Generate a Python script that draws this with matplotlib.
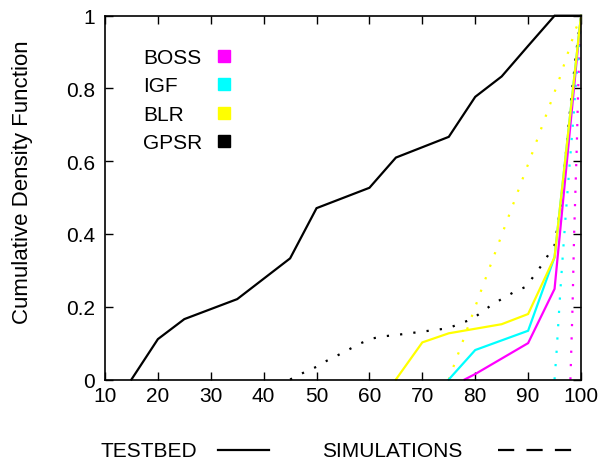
import matplotlib
matplotlib.use('Agg')
import matplotlib.pyplot as plt
from matplotlib.lines import Line2D

plt.rcParams['font.family'] = ['Liberation Sans', 'DejaVu Sans']

# testbed curves (solid)
gpsr_x = [15, 20, 25, 35, 45, 50, 60, 65, 75, 80, 85, 90, 95, 100]
gpsr_y = [0, 0.111, 0.166, 0.221, 0.333, 0.471, 0.527, 0.61, 0.667, 0.777, 0.833, 0.917, 1.0, 1.0]
blr_x = [65, 70, 75, 85, 90, 95, 100]
blr_y = [0, 0.102, 0.127, 0.152, 0.18, 0.336, 1.0]
igf_x = [75, 80, 90, 95, 100]
igf_y = [0, 0.081, 0.134, 0.336, 1.0]
boss_x = [78, 80, 90, 95, 100]
boss_y = [0, 0.015, 0.1, 0.249, 1.0]

# simulation curves (dotted)
gpsr_sim_x = [45, 47.7, 50, 52, 54.2, 56.3, 58.4, 60.6, 62.9, 65.4, 70.2, 74.9, 77.2, 79.4,
              83.3, 87.4, 89.6, 92.4, 95, 96.2, 97.2, 98.2, 99.1, 100]
gpsr_sim_y = [0, 0.02, 0.035, 0.052, 0.068, 0.084, 0.1, 0.113, 0.119, 0.123, 0.132, 0.141, 0.154, 0.166,
              0.207, 0.241, 0.255, 0.311, 0.369, 0.48, 0.63, 0.78, 0.9, 1.0]
blr_sim_x = [75, 77.7, 81, 86, 91, 96, 99, 100]
blr_sim_y = [0, 0.107, 0.24, 0.436, 0.631, 0.83, 0.963, 1.0]
igf_sim_x = [95, 95.4, 95.8, 96.2, 96.6, 97.1, 97.9, 98.5, 99, 99.6, 100]
igf_sim_y = [0, 0.08, 0.175, 0.267, 0.35, 0.45, 0.6, 0.707, 0.807, 0.9, 1.0]
boss_sim_x = [98, 98.4, 98.7, 99.2, 99.5, 99.8, 100]
boss_sim_y = [0, 0.2, 0.4, 0.64, 0.82, 0.95, 1.0]

names = ['BOSS', 'IGF', 'BLR', 'GPSR']
colors = ['#ff00ff', '#00ffff', '#ffff00', '#000000']
fs = 15

fig = plt.figure(figsize=(6.16, 4.64), dpi=100)
ax = fig.add_axes([105/616, 1-380.5/464, 476/616, 363.8/464])

dot = (0, (1, 5))
sims = [(boss_sim_x, boss_sim_y), (igf_sim_x, igf_sim_y), (blr_sim_x, blr_sim_y), (gpsr_sim_x, gpsr_sim_y)]
tests = [(boss_x, boss_y), (igf_x, igf_y), (blr_x, blr_y), (gpsr_x, gpsr_y)]
for (sx, sy), c in zip(sims, colors):
    ax.plot(sx, sy, color=c, lw=1.6, linestyle=dot, dash_capstyle='butt', clip_on=False)
for (tx, ty), c in zip(tests, colors):
    ax.plot(tx, ty, color=c, lw=1.6, clip_on=False, solid_joinstyle='miter')

ax.set_xlim(10, 100)
ax.set_ylim(0, 1)
ax.set_xticks(range(10, 101, 10))
ax.set_yticks([0, 0.2, 0.4, 0.6, 0.8, 1])
ax.set_yticklabels(['0', '0.2', '0.4', '0.6', '0.8', '1'])
ax.tick_params(direction='in', length=6, width=1, top=True, right=True, labelsize=fs)
ax.tick_params(axis='x', pad=5)
ax.tick_params(axis='y', pad=7)
for s in ax.spines.values():
    s.set_linewidth(1.2)
ax.set_ylabel('Cumulative Density Function', fontsize=16)
ax.yaxis.set_label_coords(-0.151, 0.544)

# key inside the plot: left-justified names, colour square on the right
for i, (name, c) in enumerate(zip(names, colors)):
    yk = 0.889 - i * 0.0778
    ax.text(0.0798, yk - 0.004, name, fontsize=fs, va='center', ha='left', transform=ax.transAxes)
    ax.plot([0.25], [yk], marker='s', ls='', color=c, markersize=8.5, transform=ax.transAxes)

# bottom key
fig.text(100.7/616, 1-451.7/464, 'TESTBED', fontsize=fs, va='center', ha='left')
fig.add_artist(Line2D([218/616, 269/616], [1-450.7/464]*2, color='black', lw=1.6,
                      transform=fig.transFigure))
fig.text(322/616, 1-451.7/464, 'SIMULATIONS', fontsize=fs, va='center', ha='left')
fig.add_artist(Line2D([498/616, 572/616], [1-450.7/464]*2, color='black', lw=1.6,
                      linestyle=(0, (7.3, 5.5)), transform=fig.transFigure))

fig.savefig('out.png', dpi=100)
